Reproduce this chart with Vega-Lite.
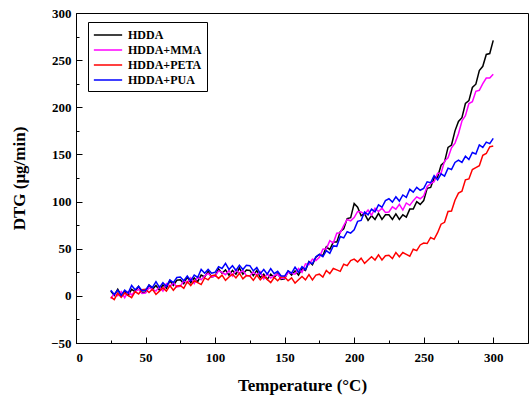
{
  "$schema": "https://vega.github.io/schema/vega-lite/v6.json",
  "width": 452,
  "height": 330,
  "autosize": "none",
  "padding": {"left": 76, "top": 13, "right": 4, "bottom": 56},
  "config": {
    "view": {"stroke": "black", "strokeWidth": 1},
    "font": "Liberation Serif, Times New Roman, serif",
    "axis": {
      "labelFont": "Liberation Serif, Times New Roman, serif", "labelFontWeight": "bold", "labelFontSize": 13, "labelColor": "black",
      "titleFont": "Liberation Serif, Times New Roman, serif", "titleFontWeight": "bold", "titleFontSize": 17, "titleColor": "black",
      "domainColor": "black", "tickColor": "black", "grid": false
    },
    "legend": {
      "orient": "none", "legendX": 12, "legendY": 9,
      "strokeColor": "black", "fillColor": "white", "padding": 5,
      "labelFont": "Liberation Serif, Times New Roman, serif", "labelFontWeight": "bold", "labelFontSize": 12, "labelColor": "black",
      "symbolType": "M-2,0H2", "symbolSize": 200, "symbolStrokeWidth": 1.5, "symbolOffset": 7, "labelOffset": 12, "rowPadding": 1
    }
  },
  "data": {"values": [
    {"T":25,"HDDA":5,"HDDA+MMA":-3,"HDDA+PETA":-1,"HDDA+PUA":6},
    {"T":27.5,"HDDA":0.5,"HDDA+MMA":2.5,"HDDA+PETA":-4,"HDDA+PUA":1.5},
    {"T":30,"HDDA":7,"HDDA+MMA":0,"HDDA+PETA":3,"HDDA+PUA":6},
    {"T":32.5,"HDDA":0.5,"HDDA+MMA":4.5,"HDDA+PETA":-1.5,"HDDA+PUA":0.5},
    {"T":35,"HDDA":5,"HDDA+MMA":-2,"HDDA+PETA":3,"HDDA+PUA":6},
    {"T":37.5,"HDDA":0.5,"HDDA+MMA":4.5,"HDDA+PETA":0.5,"HDDA+PUA":3},
    {"T":40,"HDDA":7,"HDDA+MMA":1,"HDDA+PETA":-2,"HDDA+PUA":11},
    {"T":42.5,"HDDA":4.5,"HDDA+MMA":4.5,"HDDA+PETA":4.5,"HDDA+PUA":6.5},
    {"T":45,"HDDA":10,"HDDA+MMA":7,"HDDA+PETA":2,"HDDA+PUA":10},
    {"T":47.5,"HDDA":3.5,"HDDA+MMA":2.5,"HDDA+PETA":6.5,"HDDA+PUA":5.5},
    {"T":50,"HDDA":4,"HDDA+MMA":3,"HDDA+PETA":7,"HDDA+PUA":6},
    {"T":52.5,"HDDA":11.5,"HDDA+MMA":8.5,"HDDA+PETA":3.5,"HDDA+PUA":11.5},
    {"T":55,"HDDA":7,"HDDA+MMA":7,"HDDA+PETA":7,"HDDA+PUA":9},
    {"T":57.5,"HDDA":11,"HDDA+MMA":5,"HDDA+PETA":1.5,"HDDA+PUA":15},
    {"T":60,"HDDA":6,"HDDA+MMA":10,"HDDA+PETA":5,"HDDA+PUA":9},
    {"T":62.5,"HDDA":11.5,"HDDA+MMA":5,"HDDA+PETA":8.5,"HDDA+PUA":14},
    {"T":65,"HDDA":8,"HDDA+MMA":13,"HDDA+PETA":5,"HDDA+PUA":10},
    {"T":67.5,"HDDA":16,"HDDA+MMA":10,"HDDA+PETA":11,"HDDA+PUA":17},
    {"T":70,"HDDA":11,"HDDA+MMA":14,"HDDA+PETA":6,"HDDA+PUA":14},
    {"T":72.5,"HDDA":16.5,"HDDA+MMA":9.5,"HDDA+PETA":10.5,"HDDA+PUA":19.5},
    {"T":75,"HDDA":17,"HDDA+MMA":10,"HDDA+PETA":11,"HDDA+PUA":20},
    {"T":77.5,"HDDA":13,"HDDA+MMA":16,"HDDA+PETA":8,"HDDA+PUA":16},
    {"T":80,"HDDA":20,"HDDA+MMA":14,"HDDA+PETA":15,"HDDA+PUA":21},
    {"T":82.5,"HDDA":14,"HDDA+MMA":19,"HDDA+PETA":11,"HDDA+PUA":16},
    {"T":85,"HDDA":19,"HDDA+MMA":13,"HDDA+PETA":16,"HDDA+PUA":22},
    {"T":87.5,"HDDA":15,"HDDA+MMA":20,"HDDA+PETA":14,"HDDA+PUA":19.5},
    {"T":90,"HDDA":22,"HDDA+MMA":17,"HDDA+PETA":12,"HDDA+PUA":28},
    {"T":92.5,"HDDA":20,"HDDA+MMA":21,"HDDA+PETA":19,"HDDA+PUA":24},
    {"T":95,"HDDA":26,"HDDA+MMA":24,"HDDA+PETA":17,"HDDA+PUA":28},
    {"T":97.5,"HDDA":20,"HDDA+MMA":20,"HDDA+PETA":21.5,"HDDA+PUA":24},
    {"T":100,"HDDA":21,"HDDA+MMA":21,"HDDA+PETA":22,"HDDA+PUA":25},
    {"T":102.5,"HDDA":28.5,"HDDA+MMA":26.5,"HDDA+PETA":18.5,"HDDA+PUA":31},
    {"T":105,"HDDA":24,"HDDA+MMA":25,"HDDA+PETA":22,"HDDA+PUA":29},
    {"T":107.5,"HDDA":27.5,"HDDA+MMA":22.5,"HDDA+PETA":16.5,"HDDA+PUA":34.5},
    {"T":110,"HDDA":22,"HDDA+MMA":27,"HDDA+PETA":20,"HDDA+PUA":28},
    {"T":112.5,"HDDA":27,"HDDA+MMA":21,"HDDA+PETA":23,"HDDA+PUA":32},
    {"T":115,"HDDA":23,"HDDA+MMA":28,"HDDA+PETA":19,"HDDA+PUA":27},
    {"T":117.5,"HDDA":29.5,"HDDA+MMA":24,"HDDA+PETA":24,"HDDA+PUA":32.5},
    {"T":120,"HDDA":23,"HDDA+MMA":27,"HDDA+PETA":18,"HDDA+PUA":28},
    {"T":122.5,"HDDA":27.5,"HDDA+MMA":21.5,"HDDA+PETA":21.5,"HDDA+PUA":32.5},
    {"T":125,"HDDA":27,"HDDA+MMA":21,"HDDA+PETA":21,"HDDA+PUA":32},
    {"T":127.5,"HDDA":21.5,"HDDA+MMA":25.5,"HDDA+PETA":16.5,"HDDA+PUA":26.5},
    {"T":130,"HDDA":27,"HDDA+MMA":22,"HDDA+PETA":22,"HDDA+PUA":30},
    {"T":132.5,"HDDA":19.5,"HDDA+MMA":25.5,"HDDA+PETA":17,"HDDA+PUA":23.5},
    {"T":135,"HDDA":23,"HDDA+MMA":18,"HDDA+PETA":21,"HDDA+PUA":28},
    {"T":137.5,"HDDA":17.5,"HDDA+MMA":23.5,"HDDA+PETA":17.5,"HDDA+PUA":23},
    {"T":140,"HDDA":23,"HDDA+MMA":19,"HDDA+PETA":14,"HDDA+PUA":29},
    {"T":142.5,"HDDA":19.5,"HDDA+MMA":21.5,"HDDA+PETA":19.5,"HDDA+PUA":23.5},
    {"T":145,"HDDA":24,"HDDA+MMA":23,"HDDA+PETA":16,"HDDA+PUA":26},
    {"T":147.5,"HDDA":17.5,"HDDA+MMA":18.5,"HDDA+PETA":20,"HDDA+PUA":21},
    {"T":150,"HDDA":18,"HDDA+MMA":19,"HDDA+PETA":20,"HDDA+PUA":21},
    {"T":152.5,"HDDA":26,"HDDA+MMA":25,"HDDA+PETA":16,"HDDA+PUA":26.5},
    {"T":155,"HDDA":22,"HDDA+MMA":24,"HDDA+PETA":19,"HDDA+PUA":24},
    {"T":157.5,"HDDA":26.5,"HDDA+MMA":23,"HDDA+PETA":13.5,"HDDA+PUA":30.5},
    {"T":160,"HDDA":22,"HDDA+MMA":29,"HDDA+PETA":17,"HDDA+PUA":25},
    {"T":162.5,"HDDA":29,"HDDA+MMA":25,"HDDA+PETA":20.5,"HDDA+PUA":31},
    {"T":165,"HDDA":27,"HDDA+MMA":34,"HDDA+PETA":17,"HDDA+PUA":28},
    {"T":167.5,"HDDA":36.5,"HDDA+MMA":33,"HDDA+PETA":22.5,"HDDA+PUA":36},
    {"T":170,"HDDA":33,"HDDA+MMA":39,"HDDA+PETA":17,"HDDA+PUA":34},
    {"T":172.5,"HDDA":41,"HDDA+MMA":37.5,"HDDA+PETA":22,"HDDA+PUA":41.5},
    {"T":175,"HDDA":44,"HDDA+MMA":41,"HDDA+PETA":23,"HDDA+PUA":44},
    {"T":177.5,"HDDA":42.5,"HDDA+MMA":49.5,"HDDA+PETA":20,"HDDA+PUA":41.5},
    {"T":180,"HDDA":52,"HDDA+MMA":50,"HDDA+PETA":27,"HDDA+PUA":48},
    {"T":182.5,"HDDA":49,"HDDA+MMA":58.5,"HDDA+PETA":23.5,"HDDA+PUA":45},
    {"T":185,"HDDA":57,"HDDA+MMA":56,"HDDA+PETA":29,"HDDA+PUA":53},
    {"T":187.5,"HDDA":57,"HDDA+MMA":66.5,"HDDA+PETA":27.5,"HDDA+PUA":52.5},
    {"T":190,"HDDA":68,"HDDA+MMA":67,"HDDA+PETA":26,"HDDA+PUA":63},
    {"T":192.5,"HDDA":71,"HDDA+MMA":74.5,"HDDA+PETA":33.5,"HDDA+PUA":61.5},
    {"T":195,"HDDA":82,"HDDA+MMA":81,"HDDA+PETA":32,"HDDA+PUA":68},
    {"T":197.5,"HDDA":83,"HDDA+MMA":79.5,"HDDA+PETA":37.5,"HDDA+PUA":66.5},
    {"T":200,"HDDA":98,"HDDA+MMA":83,"HDDA+PETA":39,"HDDA+PUA":70},
    {"T":202.5,"HDDA":94,"HDDA+MMA":89.5,"HDDA+PETA":36,"HDDA+PUA":79},
    {"T":205,"HDDA":85,"HDDA+MMA":89,"HDDA+PETA":40,"HDDA+PUA":80},
    {"T":207.5,"HDDA":87,"HDDA+MMA":86.5,"HDDA+PETA":34.5,"HDDA+PUA":89},
    {"T":210,"HDDA":80,"HDDA+MMA":91,"HDDA+PETA":38,"HDDA+PUA":86},
    {"T":212.5,"HDDA":85,"HDDA+MMA":85.5,"HDDA+PETA":41.5,"HDDA+PUA":92},
    {"T":215,"HDDA":81,"HDDA+MMA":93,"HDDA+PETA":38,"HDDA+PUA":89},
    {"T":217.5,"HDDA":87.5,"HDDA+MMA":89.5,"HDDA+PETA":43.5,"HDDA+PUA":96.5},
    {"T":220,"HDDA":81,"HDDA+MMA":93,"HDDA+PETA":38,"HDDA+PUA":94},
    {"T":222.5,"HDDA":86,"HDDA+MMA":88.5,"HDDA+PETA":42.5,"HDDA+PUA":101},
    {"T":225,"HDDA":86,"HDDA+MMA":89,"HDDA+PETA":43,"HDDA+PUA":103},
    {"T":227.5,"HDDA":81,"HDDA+MMA":94.5,"HDDA+PETA":39.5,"HDDA+PUA":99.5},
    {"T":230,"HDDA":87,"HDDA+MMA":92,"HDDA+PETA":46,"HDDA+PUA":105},
    {"T":232.5,"HDDA":81,"HDDA+MMA":97,"HDDA+PETA":41.5,"HDDA+PUA":100.5},
    {"T":235,"HDDA":86,"HDDA+MMA":91,"HDDA+PETA":46,"HDDA+PUA":107},
    {"T":237.5,"HDDA":83.5,"HDDA+MMA":98.5,"HDDA+PETA":44,"HDDA+PUA":104.5},
    {"T":240,"HDDA":92,"HDDA+MMA":96,"HDDA+PETA":42,"HDDA+PUA":113},
    {"T":242.5,"HDDA":92,"HDDA+MMA":101,"HDDA+PETA":49.5,"HDDA+PUA":110},
    {"T":245,"HDDA":100,"HDDA+MMA":105,"HDDA+PETA":48,"HDDA+PUA":115},
    {"T":247.5,"HDDA":97,"HDDA+MMA":103,"HDDA+PETA":54,"HDDA+PUA":112},
    {"T":250,"HDDA":101,"HDDA+MMA":106,"HDDA+PETA":56,"HDDA+PUA":114},
    {"T":252.5,"HDDA":114,"HDDA+MMA":116,"HDDA+PETA":55.5,"HDDA+PUA":121},
    {"T":255,"HDDA":115,"HDDA+MMA":119,"HDDA+PETA":62,"HDDA+PUA":120},
    {"T":257.5,"HDDA":125,"HDDA+MMA":121,"HDDA+PETA":60,"HDDA+PUA":127.5},
    {"T":260,"HDDA":126,"HDDA+MMA":130,"HDDA+PETA":67,"HDDA+PUA":123},
    {"T":262.5,"HDDA":138.5,"HDDA+MMA":130,"HDDA+PETA":76,"HDDA+PUA":129.5},
    {"T":265,"HDDA":142,"HDDA+MMA":143,"HDDA+PETA":78,"HDDA+PUA":127},
    {"T":267.5,"HDDA":157.5,"HDDA+MMA":146.5,"HDDA+PETA":89.5,"HDDA+PUA":135.5},
    {"T":270,"HDDA":160,"HDDA+MMA":157,"HDDA+PETA":90,"HDDA+PUA":134},
    {"T":272.5,"HDDA":175,"HDDA+MMA":162,"HDDA+PETA":101.5,"HDDA+PUA":141.5},
    {"T":275,"HDDA":185,"HDDA+MMA":172,"HDDA+PETA":109,"HDDA+PUA":144},
    {"T":277.5,"HDDA":189,"HDDA+MMA":185.5,"HDDA+PETA":111,"HDDA+PUA":141.5},
    {"T":280,"HDDA":204,"HDDA+MMA":191,"HDDA+PETA":123,"HDDA+PUA":148},
    {"T":282.5,"HDDA":207,"HDDA+MMA":204,"HDDA+PETA":124,"HDDA+PUA":144.5},
    {"T":285,"HDDA":221,"HDDA+MMA":206,"HDDA+PETA":134,"HDDA+PUA":152},
    {"T":287.5,"HDDA":224.5,"HDDA+MMA":217,"HDDA+PETA":136,"HDDA+PUA":150.5},
    {"T":290,"HDDA":239,"HDDA+MMA":218,"HDDA+PETA":138,"HDDA+PUA":160},
    {"T":292.5,"HDDA":243.5,"HDDA+MMA":225,"HDDA+PETA":149,"HDDA+PUA":157.5},
    {"T":295,"HDDA":256,"HDDA+MMA":231,"HDDA+PETA":151,"HDDA+PUA":163},
    {"T":297.5,"HDDA":257,"HDDA+MMA":231,"HDDA+PETA":158,"HDDA+PUA":161.5},
    {"T":300,"HDDA":271,"HDDA+MMA":235,"HDDA+PETA":159,"HDDA+PUA":167}
  ]},
  "transform": [{"fold": ["HDDA", "HDDA+MMA", "HDDA+PETA", "HDDA+PUA"], "as": ["series", "value"]}],
  "layer": [
    {
      "mark": {"type": "line", "opacity": 0},
      "encoding": {
        "x": {"field": "T", "type": "quantitative", "scale": {"domain": [0, 325], "nice": false, "zero": false},
              "axis": {"orient": "bottom", "values": [25, 75, 125, 175, 225, 275], "labels": false, "domain": false, "tickSize": -3, "title": null}},
        "y": {"field": "value", "type": "quantitative", "scale": {"domain": [-50, 300], "nice": false, "zero": false},
              "axis": {"orient": "left", "values": [-25, 25, 75, 125, 175, 225, 275], "labels": false, "domain": false, "tickSize": -3, "title": null}},
        "detail": {"field": "series"}
      }
    },
    {
      "mark": {"type": "line", "strokeWidth": 1.5, "clip": true},
      "encoding": {
        "x": {"field": "T", "type": "quantitative", "scale": {"domain": [0, 325], "nice": false, "zero": false},
              "axis": {"orient": "bottom", "values": [0, 50, 100, 150, 200, 250, 300], "tickSize": -6, "labelPadding": 14, "title": "Temperature (°C)", "titleBaseline": "middle", "titleY": 42}},
        "y": {"field": "value", "type": "quantitative", "scale": {"domain": [-50, 300], "nice": false, "zero": false},
              "axis": {"orient": "left", "values": [-50, 0, 50, 100, 150, 200, 250, 300], "tickSize": -6, "labelPadding": 11, "title": "DTG (μg/min)", "titleBaseline": "middle", "titleX": -57}},
        "color": {"field": "series", "type": "nominal",
                  "scale": {"domain": ["HDDA", "HDDA+MMA", "HDDA+PETA", "HDDA+PUA"], "range": ["#000000", "#ff00ff", "#ff0000", "#0000ff"]},
                  "legend": {"title": null}}
      }
    }
  ],
  "resolve": {"axis": {"x": "independent", "y": "independent"}}
}
